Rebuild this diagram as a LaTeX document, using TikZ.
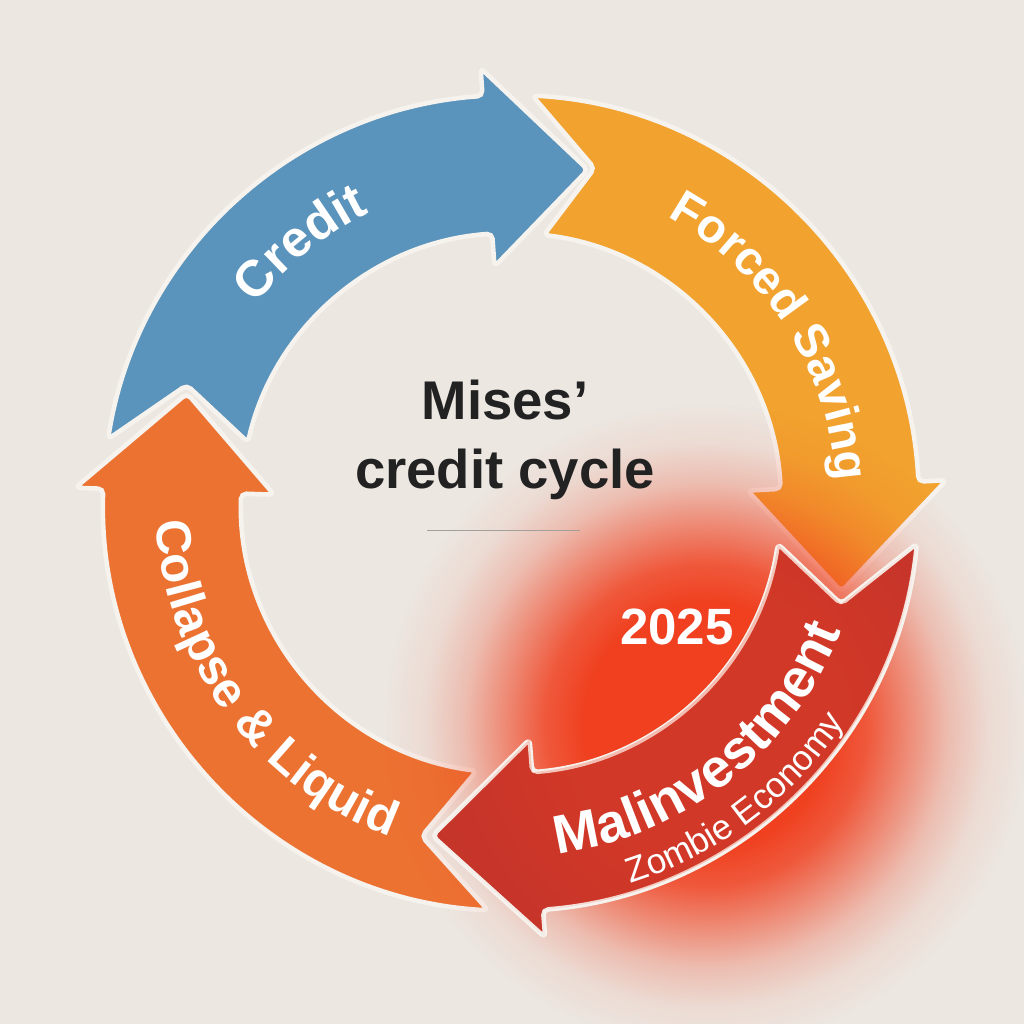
\documentclass[tikz,border=0pt]{standalone}
\usepackage{fontspec}
\setmainfont{Liberation Sans}
\usepackage{tikz}
\usetikzlibrary{decorations.text, fadings}
\usepackage{xcolor}
\definecolor{PaperBg}{HTML}{ECE7E1}
\definecolor{PaperEdge}{HTML}{F6F3EF}
\definecolor{CreditBlue}{HTML}{5A93BB}
\definecolor{SavingAmber}{HTML}{F2A22F}
\definecolor{CollapseOrange}{HTML}{EC7232}
\definecolor{MalRed}{HTML}{C5352B}
\definecolor{GlowRed}{HTML}{F0401F}
\definecolor{TitleInk}{HTML}{222222}
\definecolor{RuleGray}{HTML}{A39F9A}

% ring geometry (units of the 1024 grid)
\newcommand\ringout{408}
\newcommand\ringin{270}
\newcommand\wingout{436}
\newcommand\wingin{237}
\newcommand\tipr{342}
\newcommand\notchr{345}
% segment: tail outer, tail inner, notch, head base, tip
\newcommand\cyclearrow[5]{(#1:\ringout) arc[start angle=#1, end angle=#4, radius=\ringout] -- (#4:\wingout) -- (#5:\tipr) -- (#4:\wingin) -- (#4:\ringin) arc[start angle=#4, end angle=#2, radius=\ringin] -- (#3:\notchr) -- cycle}
\newcommand\bandfont[1]{\fontsize{#1}{#1}\selectfont\bfseries\color{white}}
\newcommand\subbandfont[1]{\fontsize{#1}{#1}\selectfont\color{white}}

% soft glow mask (25bp = circle radius)
\pgfdeclareradialshading{glowmask}{\pgfpointorigin}{color(0bp)=(white); color(9bp)=(white); color(12bp)=(black!15); color(15bp)=(black!45); color(18bp)=(black!75); color(21bp)=(black!93); color(24bp)=(black); color(50bp)=(black)}
\pgfdeclarefading{glowfade}{\pgfuseshading{glowmask}}

\tikzset{
    % Ring segments
    ringsegment/.style={
        draw=PaperEdge,
        line width=1.3pt,
        rounded corners=1.5pt
    },
    % Text following a segment
    bandlabel/.style={
        decorate,
        decoration={text along path, text align=center, text={#1}}
    },
    % Centre texts
    titletext/.style={
        align=center,
        inner sep=0pt,
        text=TitleInk,
        font=\fontsize{15.5}{19.5}\selectfont\bfseries
    },
    yeartext/.style={
        inner sep=0pt,
        text=white,
        font=\fontsize{14.5}{14.5}\selectfont\bfseries
    },
    dividerline/.style={
        draw=RuleGray,
        line width=0.5pt
    }
}

\begin{document}
\begin{tikzpicture}[x=0.01cm, y=0.01cm]
    \useasboundingbox (-511,-521) rectangle (513,503);
    \fill[PaperBg] (-511,-521) rectangle (513,503);

    % Credit
    \fill[CreditBlue, ringsegment] \cyclearrow{171}{167}{160}{94}{77};
    % Forced Saving
    \fill[SavingAmber, ringsegment] \cyclearrow{87}{83}{76}{3}{-15};
    % Collapse & Liquid
    \fill[CollapseOrange, ringsegment] \cyclearrow{-93.2}{-97.3}{-105}{-182}{-198.7};

    % 2025 glow
    \coordinate (glowc) at (195,-222);
    \fill[GlowRed, path fading=glowfade] (glowc) circle[radius=335];

    % Malinvestment
    \fill[MalRed, ringsegment] \cyclearrow{-5.7}{-8.7}{-17}{-85.5}{-103.3};
    \begin{scope}
        \clip \cyclearrow{-5.7}{-8.7}{-17}{-85.5}{-103.3};
        \fill[GlowRed, path fading=glowfade, fill opacity=0.3] (glowc) circle[radius=335];
    \end{scope}

    % Labels on the ring
    \path[bandlabel={|\bandfont{14.5}|Credit}] (159:323) arc[start angle=159, end angle=99, radius=323];
    \path[bandlabel={|\bandfont{13.5}|Forced Saving}] (72.5:326) arc[start angle=72.5, end angle=-7.5, radius=326];
    \path[bandlabel={|\bandfont{14}|Collapse {\&} Liquid}] (171.5:355) arc[start angle=171.5, end angle=261.5, radius=355];
    \path[bandlabel={|\bandfont{15.5}|Malinvestment}] (-96.8:354) arc[start angle=-96.8, end angle=-6.8, radius=354];
    \path[bandlabel={|\subbandfont{10}|Zombie Economy}] (-92.9:399) arc[start angle=-92.9, end angle=-12.9, radius=399];

    % Centre
    \node[titletext] (title) at (-6,63) {Mises’\\credit cycle};
    \draw[dividerline] ([shift={(-78,-30)}]title.south) -- ([shift={(75,-30)}]title.south);
    \node[yeartext] (year) at (166,-124) {2025};
\end{tikzpicture}
\end{document}
